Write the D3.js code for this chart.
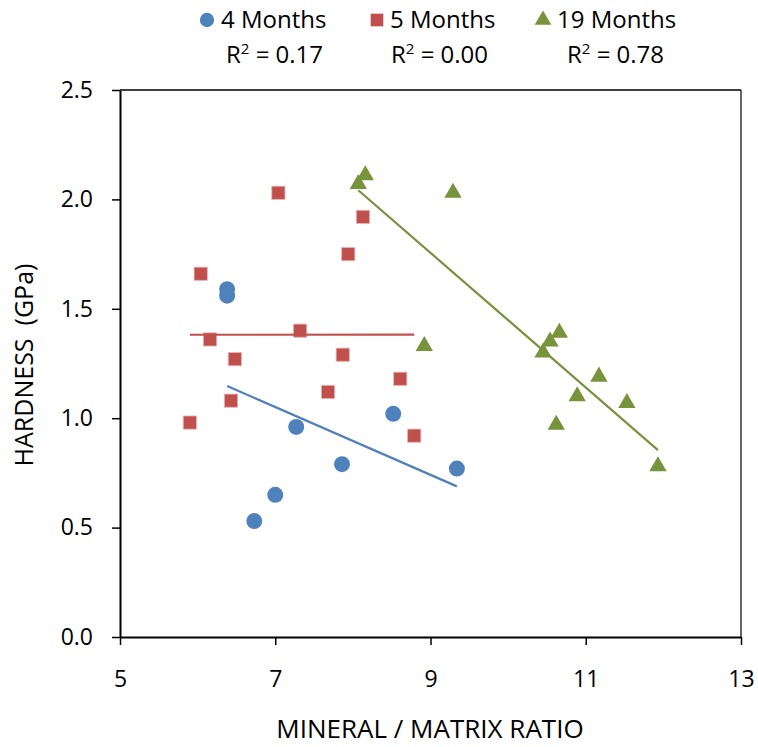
<!DOCTYPE html>
<html>
<head>
<meta charset="utf-8">
<script src="https://cdn.jsdelivr.net/npm/d3@7"></script>
<style>
  body { margin: 0; background: #fff; }
  svg text { font-family: "Open Sans", "Noto Sans", sans-serif; fill: #000; }
</style>
</head>
<body>
<div id="chart"></div>
<script>
// data
var seriesNames = ['4 Months', '5 Months', '19 Months'];
var rSquared = ['0.17', '0.00', '0.78'];

var ratio4 = [6.38, 6.38, 6.73, 7.00, 7.27, 7.86, 8.52, 9.34];
var hard4  = [1.59, 1.56, 0.53, 0.65, 0.96, 0.79, 1.02, 0.77];

var ratio5 = [5.90, 6.04, 6.16, 6.43, 6.48, 7.04, 7.32, 7.68, 7.87, 7.94, 8.13, 8.61, 8.79];
var hard5  = [0.98, 1.66, 1.36, 1.08, 1.27, 2.03, 1.40, 1.12, 1.29, 1.75, 1.92, 1.18, 0.92];

var ratio19 = [8.07, 8.16, 9.29, 8.92, 10.45, 10.54, 10.66, 11.17, 10.89, 11.53, 10.62, 11.93];
var hard19  = [2.07, 2.11, 2.03, 1.33, 1.30, 1.35, 1.39, 1.19, 1.10, 1.07, 0.97, 0.78];

var xTicks = [5, 7, 9, 11, 13];
var yTicks = [0, 0.5, 1.0, 1.5, 2.0, 2.5];

var colors = ['#4F81BD', '#C0504D', '#77933C'];

var W = 758, H = 747;
var plotLeft = 120, plotRight = 741, plotTop = 90, plotBottom = 637;

var x = d3.scaleLinear().domain([5, 13]).range([plotLeft, plotRight]);
var y = d3.scaleLinear().domain([0, 2.5]).range([plotBottom, plotTop]);

var svg = d3.select('#chart').append('svg').attr('width', W).attr('height', H);

// least squares line over the x range of one series
var fit = function(xs, ys) {
  var mx = d3.mean(xs), my = d3.mean(ys);
  var sxy = d3.sum(xs, function(v, i) { return (v - mx) * (ys[i] - my); });
  var sxx = d3.sum(xs, function(v) { return (v - mx) * (v - mx); });
  var b = sxy / sxx;
  var a = my - b * mx;
  var x0 = d3.min(xs), x1 = d3.max(xs);
  return [[x0, a + b * x0], [x1, a + b * x1]];
};

// frame: top and right border
svg.append('line').attr('x1', plotLeft).attr('x2', plotRight).attr('y1', plotTop).attr('y2', plotTop)
  .attr('stroke', '#000').attr('stroke-width', 1.5);
svg.append('line').attr('x1', plotRight).attr('x2', plotRight).attr('y1', plotTop).attr('y2', plotBottom)
  .attr('stroke', '#000').attr('stroke-width', 1.2);

var xAxis = svg.append('g').attr('transform', 'translate(0,' + plotBottom + ')')
  .call(d3.axisBottom(x).tickValues(xTicks).tickSize(8).tickSizeOuter(0).tickPadding(26)
    .tickFormat(d3.format('d')));
var yAxis = svg.append('g').attr('transform', 'translate(' + plotLeft + ',0)')
  .call(d3.axisLeft(y).tickValues(yTicks).tickSize(8).tickSizeOuter(0).tickPadding(19)
    .tickFormat(d3.format('.1f')));

[xAxis, yAxis].forEach(function(g) {
  g.select('.domain').attr('stroke', '#000').attr('stroke-width', 2);
  g.selectAll('.tick line').attr('stroke', '#000').attr('stroke-width', 1.5);
  g.selectAll('.tick text').style('font-size', '23px').attr('fill', '#000');
});
xAxis.selectAll('.tick text').attr('dy', '0.71em');

// axis titles
svg.append('text').attr('x', 430).attr('y', 738).attr('text-anchor', 'middle')
  .style('font-size', '26px').text('MINERAL / MATRIX RATIO');
svg.append('text').attr('transform', 'translate(33,365) rotate(-90)').attr('text-anchor', 'middle')
  .style('font-size', '25px').attr('xml:space', 'preserve').text('HARDNESS  (GPa)');

var series = [
  { xs: ratio4, ys: hard4, symbol: d3.symbolCircle, size: 200 },
  { xs: ratio5, ys: hard5, symbol: d3.symbolSquare, size: 175 },
  { xs: ratio19, ys: hard19, symbol: d3.symbolTriangle, size: 130 }
];

var line = d3.line().x(function(d) { return x(d[0]); }).y(function(d) { return y(d[1]); });

series.forEach(function(s, k) {
  svg.append('g').selectAll('path')
    .data(s.xs)
    .enter()
      .append('path')
      .attr('d', d3.symbol().type(s.symbol).size(s.size))
      .attr('transform', function(d, i) { return 'translate(' + x(d) + ',' + y(s.ys[i]) + ')'; })
      .attr('fill', colors[k])
      .attr('stroke', k == 1 ? '#E8B5B4' : 'none')
      .attr('stroke-width', 0.8);
});

series.forEach(function(s, k) {
  svg.append('path').datum(fit(s.xs, s.ys)).attr('d', line)
    .attr('fill', 'none').attr('stroke', colors[k]).attr('stroke-width', 2.2);
});

// legend
var legendMarkX = [207, 377, 543];
var legendTextX = [221, 390, 557];
var legendRX = [226, 391, 567];

var legend = svg.append('g');
seriesNames.forEach(function(name, k) {
  legend.append('path')
    .attr('d', d3.symbol().type(series[k].symbol).size(k == 2 ? 120 : 160))
    .attr('transform', 'translate(' + legendMarkX[k] + ',20)')
    .attr('fill', colors[k]);
  legend.append('text').attr('x', legendTextX[k]).attr('y', 28)
    .style('font-size', '24px').text(name);
  var t = legend.append('text').attr('x', legendRX[k]).attr('y', 63).style('font-size', '24px');
  t.append('tspan').text('R');
  t.append('tspan').attr('dy', -9).style('font-size', '15px').text('2');
  t.append('tspan').attr('dy', 9).text(' = ' + rSquared[k]);
});
</script>
</body>
</html>
